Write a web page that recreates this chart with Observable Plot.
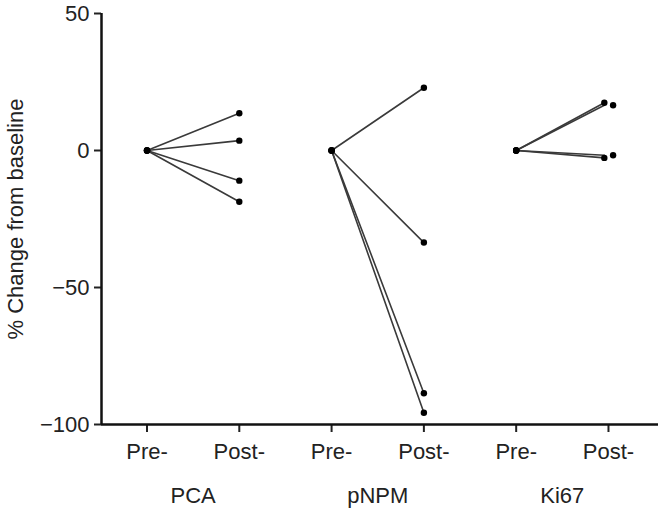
<!DOCTYPE html>
<html>
<head>
<meta charset="utf-8">
<script src="https://cdn.jsdelivr.net/npm/d3@7"></script>
<script src="https://cdn.jsdelivr.net/npm/@observablehq/plot@0.6"></script>
<style>
  html, body { margin: 0; padding: 0; background: #fff; }
  #chart svg { display: block; }
</style>
</head>
<body>
<div id="chart"></div>
<script>
// Data
const groups = ["PCA", "pNPM", "Ki67"];
const tickLabels = ["Pre-", "Post-"];
const preValues = [0, 0, 0, 0];
const pcaPost = [13.6, 3.6, -11.0, -18.7];
const pnpmPost = [22.9, -33.6, -88.6, -95.7];
const ki67Post = [17.4, 16.5, -2.7, -1.75];
// small horizontal jitter of the post- dots (in category units)
const pcaJitter = [0, 0, 0, 0];
const pnpmJitter = [0, 0, 0, 0];
const ki67Jitter = [-0.045, 0.05, -0.045, 0.05];
// where the connecting lines end (lines in Ki67 all end at the inner dots)
const ki67LineJitter = [-0.045, -0.045, -0.045, -0.045];
const yTicks = [50, 0, -50, -100];

const postSeries = [pcaPost, pnpmPost, ki67Post];
const dotJitters = [pcaJitter, pnpmJitter, ki67Jitter];
const lineJitters = [pcaJitter, pnpmJitter, ki67LineJitter];

const dotRows = [];
const lineRows = [];
groups.forEach((g, gi) => {
  postSeries[gi].forEach((v, i) => {
    const id = g + "-" + i;
    dotRows.push({id, pos: gi * 2 + 1, value: preValues[i]});
    dotRows.push({id, pos: gi * 2 + 2 + dotJitters[gi][i], value: v});
    lineRows.push({id, pos: gi * 2 + 1, value: preValues[i]});
    lineRows.push({id, pos: gi * 2 + 2 + lineJitters[gi][i], value: v});
  });
});
const positions = [1, 2, 3, 4, 5, 6];
const groupCenters = groups.map((g, gi) => gi * 2 + 1.5);

const font = "'Liberation Sans', Arial, Helvetica, sans-serif";

const chart = Plot.plot({
  width: 658,
  height: 508,
  marginLeft: 101,
  marginRight: 0,
  marginTop: 13,
  marginBottom: 84,
  style: {fontFamily: font, fontSize: "22px", color: "#222", background: "#fff"},
  x: {type: "linear", domain: [0.507, 6.542]},
  y: {domain: [-100, 50]},
  marks: [
    Plot.axisY({
      ticks: yTicks,
      tickSize: 7,
      tickPadding: 5,
      tickFormat: d => d < 0 ? "\u2212" + Math.abs(d) : String(d),
      strokeWidth: 2,
      fontSize: 22,
      label: "% Change from baseline",
      labelAnchor: "center",
      labelArrow: "none",
      labelOffset: 94
    }),
    Plot.axisX({
      ticks: positions,
      tickSize: 8,
      tickPadding: 11,
      strokeWidth: 2,
      fontSize: 22,
      tickFormat: d => tickLabels[(d - 1) % 2],
      label: null
    }),
    Plot.axisX({
      ticks: groupCenters,
      tickSize: 0,
      tickPadding: 63,
      fontSize: 22,
      tickFormat: d => groups[Math.round((d - 1.5) / 2)],
      label: null
    }),
    Plot.ruleX([0.507], {y1: -100, y2: 50, stroke: "#111", strokeWidth: 2.5}),
    Plot.ruleY([-100], {stroke: "#111", strokeWidth: 2.5}),
    Plot.line(lineRows, {x: "pos", y: "value", z: "id", stroke: "#3a3a3a", strokeWidth: 1.6}),
    Plot.dot(dotRows, {x: "pos", y: "value", r: 3.2, fill: "#000", stroke: "none"})
  ]
});

document.getElementById("chart").appendChild(chart);
</script>
</body>
</html>
